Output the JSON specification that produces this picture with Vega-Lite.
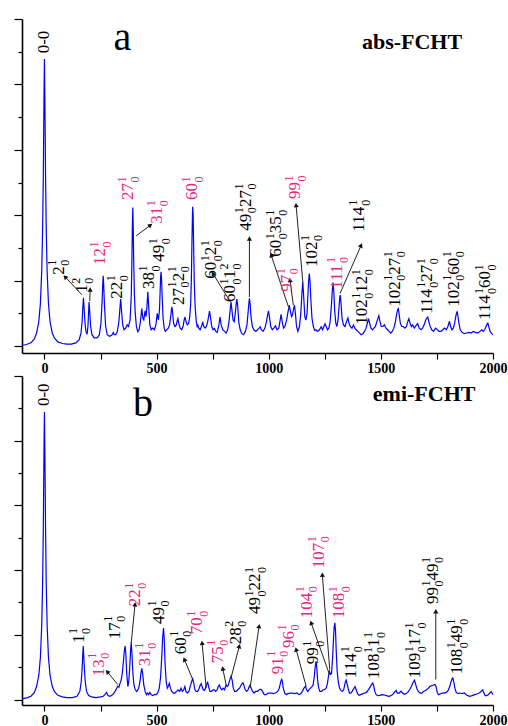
{
"$schema": "https://vega.github.io/schema/vega-lite/v6.json",
"padding": {"left": 13, "top": 17, "right": 4, "bottom": 0},
"spacing": 0,
"config": {"view": {"stroke": null}},
"datasets": {
"absSpec": [
{"x":-100,"y":0.02},{"x":-80,"y":0.05},{"x":-60,"y":0.1},{"x":-45,"y":0.22},{"x":-35,"y":0.4},{"x":-25,"y":0.75},{"x":-18,"y":1.3},{"x":-12,"y":2.3},{"x":-8,"y":3.6},{"x":-5,"y":5.2},{"x":-2,"y":7.6},{"x":0,"y":8.78},{"x":2,"y":7.6},{"x":5,"y":5.2},{"x":8,"y":3.6},{"x":12,"y":2.3},{"x":18,"y":1.3},{"x":25,"y":0.75},{"x":35,"y":0.4},{"x":45,"y":0.24},{"x":60,"y":0.13},{"x":80,"y":0.08},{"x":100,"y":0.06},{"x":120,"y":0.06},{"x":140,"y":0.1},{"x":155,"y":0.2},{"x":163,"y":0.4},{"x":168,"y":0.75},{"x":171,"y":1.15},{"x":174,"y":1.48},{"x":177,"y":1.15},{"x":181,"y":0.7},{"x":185,"y":0.45},{"x":190,"y":0.36},{"x":194,"y":0.6},{"x":197,"y":1.05},{"x":199,"y":1.35},{"x":202,"y":1.05},{"x":206,"y":0.6},{"x":212,"y":0.35},{"x":222,"y":0.25},{"x":235,"y":0.25},{"x":245,"y":0.35},{"x":252,"y":0.7},{"x":257,"y":1.35},{"x":260,"y":1.9},{"x":262,"y":2.15},{"x":264,"y":1.9},{"x":268,"y":1.2},{"x":273,"y":0.6},{"x":280,"y":0.35},{"x":290,"y":0.3},{"x":300,"y":0.33},{"x":304,"y":0.38},{"x":307,"y":0.42},{"x":311,"y":0.35},{"x":318,"y":0.35},{"x":325,"y":0.45},{"x":332,"y":0.75},{"x":336,"y":1.1},{"x":340,"y":1.44},{"x":344,"y":1.05},{"x":349,"y":0.65},{"x":355,"y":0.5},{"x":362,"y":0.55},{"x":369,"y":0.65},{"x":375,"y":0.6},{"x":382,"y":0.8},{"x":387,"y":1.5},{"x":390,"y":2.6},{"x":392,"y":3.6},{"x":394,"y":4.24},{"x":396,"y":3.6},{"x":398,"y":2.6},{"x":401,"y":1.6},{"x":405,"y":1.0},{"x":410,"y":0.6},{"x":416,"y":0.44},{"x":422,"y":0.5},{"x":428,"y":0.75},{"x":434,"y":1.15},{"x":439,"y":0.85},{"x":443,"y":0.8},{"x":446,"y":0.95},{"x":449,"y":1.08},{"x":453,"y":0.9},{"x":457,"y":1.2},{"x":461,"y":1.66},{"x":465,"y":1.2},{"x":470,"y":0.65},{"x":476,"y":0.5},{"x":483,"y":0.55},{"x":490,"y":0.5},{"x":497,"y":0.65},{"x":503,"y":1.0},{"x":508,"y":0.8},{"x":513,"y":1.1},{"x":516,"y":1.7},{"x":518,"y":2.1},{"x":520,"y":2.27},{"x":522,"y":2.1},{"x":525,"y":1.5},{"x":529,"y":0.85},{"x":534,"y":0.55},{"x":539,"y":0.45},{"x":545,"y":0.5},{"x":552,"y":0.55},{"x":558,"y":0.65},{"x":563,"y":0.9},{"x":566,"y":1.1},{"x":568,"y":1.2},{"x":571,"y":1.05},{"x":576,"y":0.7},{"x":582,"y":0.6},{"x":588,"y":0.65},{"x":592,"y":0.78},{"x":595,"y":0.84},{"x":599,"y":0.7},{"x":605,"y":0.55},{"x":612,"y":0.5},{"x":618,"y":0.6},{"x":623,"y":0.8},{"x":627,"y":0.89},{"x":631,"y":0.75},{"x":637,"y":0.65},{"x":643,"y":0.7},{"x":648,"y":0.9},{"x":652,"y":1.3},{"x":655,"y":2.0},{"x":658,"y":3.3},{"x":660,"y":4.0},{"x":661,"y":4.26},{"x":663,"y":4.0},{"x":665,"y":3.2},{"x":668,"y":2.0},{"x":672,"y":1.2},{"x":677,"y":0.75},{"x":681,"y":0.6},{"x":684,"y":0.64},{"x":688,"y":0.55},{"x":694,"y":0.5},{"x":700,"y":0.6},{"x":706,"y":0.74},{"x":710,"y":0.6},{"x":716,"y":0.55},{"x":722,"y":0.6},{"x":728,"y":0.75},{"x":733,"y":0.95},{"x":736,"y":1.07},{"x":740,"y":0.9},{"x":746,"y":0.6},{"x":752,"y":0.5},{"x":758,"y":0.54},{"x":764,"y":0.45},{"x":770,"y":0.42},{"x":777,"y":0.6},{"x":783,"y":0.89},{"x":788,"y":0.65},{"x":795,"y":0.5},{"x":803,"y":0.45},{"x":810,"y":0.4},{"x":817,"y":0.5},{"x":823,"y":0.75},{"x":828,"y":1.1},{"x":832,"y":1.35},{"x":836,"y":1.1},{"x":841,"y":0.8},{"x":846,"y":0.75},{"x":851,"y":1.0},{"x":855,"y":1.3},{"x":858,"y":1.44},{"x":862,"y":1.2},{"x":867,"y":0.7},{"x":873,"y":0.5},{"x":880,"y":0.38},{"x":888,"y":0.35},{"x":896,"y":0.45},{"x":903,"y":0.65},{"x":909,"y":1.1},{"x":912,"y":1.35},{"x":914,"y":1.46},{"x":917,"y":1.3},{"x":921,"y":0.9},{"x":927,"y":0.6},{"x":934,"y":0.5},{"x":942,"y":0.45},{"x":950,"y":0.5},{"x":957,"y":0.55},{"x":962,"y":0.59},{"x":967,"y":0.5},{"x":975,"y":0.45},{"x":983,"y":0.55},{"x":990,"y":0.75},{"x":995,"y":0.95},{"x":999,"y":1.08},{"x":1003,"y":0.9},{"x":1009,"y":0.6},{"x":1016,"y":0.5},{"x":1023,"y":0.55},{"x":1030,"y":0.62},{"x":1037,"y":0.5},{"x":1045,"y":0.55},{"x":1050,"y":0.75},{"x":1055,"y":0.97},{"x":1060,"y":0.75},{"x":1066,"y":0.55},{"x":1072,"y":0.6},{"x":1080,"y":0.8},{"x":1086,"y":1.05},{"x":1092,"y":1.25},{"x":1097,"y":1.05},{"x":1102,"y":0.9},{"x":1106,"y":0.95},{"x":1111,"y":1.15},{"x":1115,"y":1.25},{"x":1119,"y":1.0},{"x":1124,"y":0.6},{"x":1130,"y":0.45},{"x":1137,"y":0.6},{"x":1143,"y":1.0},{"x":1148,"y":1.6},{"x":1152,"y":1.97},{"x":1156,"y":1.5},{"x":1161,"y":0.9},{"x":1166,"y":0.8},{"x":1171,"y":1.0},{"x":1175,"y":1.6},{"x":1178,"y":2.0},{"x":1181,"y":2.22},{"x":1184,"y":2.0},{"x":1188,"y":1.4},{"x":1193,"y":0.85},{"x":1199,"y":0.6},{"x":1205,"y":0.48},{"x":1211,"y":0.5},{"x":1218,"y":0.45},{"x":1226,"y":0.5},{"x":1234,"y":0.59},{"x":1240,"y":0.5},{"x":1246,"y":0.6},{"x":1251,"y":0.68},{"x":1256,"y":0.6},{"x":1262,"y":0.5},{"x":1268,"y":0.55},{"x":1274,"y":0.75},{"x":1280,"y":1.3},{"x":1284,"y":1.75},{"x":1287,"y":1.94},{"x":1290,"y":1.7},{"x":1294,"y":1.1},{"x":1299,"y":0.7},{"x":1304,"y":0.6},{"x":1309,"y":0.8},{"x":1314,"y":1.25},{"x":1317,"y":1.5},{"x":1319,"y":1.56},{"x":1322,"y":1.35},{"x":1327,"y":0.85},{"x":1333,"y":0.65},{"x":1340,"y":0.6},{"x":1347,"y":0.75},{"x":1353,"y":0.86},{"x":1358,"y":0.7},{"x":1364,"y":0.6},{"x":1371,"y":0.55},{"x":1378,"y":0.65},{"x":1384,"y":0.55},{"x":1390,"y":0.5},{"x":1398,"y":0.45},{"x":1405,"y":0.4},{"x":1412,"y":0.35},{"x":1420,"y":0.38},{"x":1427,"y":0.45},{"x":1434,"y":0.55},{"x":1440,"y":0.7},{"x":1445,"y":0.84},{"x":1450,"y":0.7},{"x":1456,"y":0.55},{"x":1463,"y":0.5},{"x":1469,"y":0.55},{"x":1476,"y":0.6},{"x":1482,"y":0.75},{"x":1487,"y":0.85},{"x":1491,"y":0.93},{"x":1496,"y":0.75},{"x":1502,"y":0.6},{"x":1509,"y":0.6},{"x":1516,"y":0.65},{"x":1523,"y":0.55},{"x":1530,"y":0.5},{"x":1537,"y":0.45},{"x":1544,"y":0.4},{"x":1551,"y":0.45},{"x":1558,"y":0.55},{"x":1565,"y":0.75},{"x":1571,"y":1.0},{"x":1575,"y":1.12},{"x":1578,"y":1.15},{"x":1582,"y":0.95},{"x":1587,"y":0.7},{"x":1593,"y":0.6},{"x":1600,"y":0.6},{"x":1607,"y":0.55},{"x":1614,"y":0.6},{"x":1620,"y":0.75},{"x":1625,"y":0.84},{"x":1630,"y":0.7},{"x":1636,"y":0.6},{"x":1642,"y":0.65},{"x":1649,"y":0.55},{"x":1656,"y":0.62},{"x":1664,"y":0.69},{"x":1671,"y":0.55},{"x":1679,"y":0.5},{"x":1686,"y":0.55},{"x":1693,"y":0.65},{"x":1700,"y":0.8},{"x":1705,"y":0.86},{"x":1709,"y":0.89},{"x":1714,"y":0.75},{"x":1720,"y":0.6},{"x":1727,"y":0.5},{"x":1735,"y":0.45},{"x":1744,"y":0.55},{"x":1752,"y":0.5},{"x":1760,"y":0.45},{"x":1768,"y":0.45},{"x":1776,"y":0.5},{"x":1784,"y":0.55},{"x":1792,"y":0.5},{"x":1799,"y":0.6},{"x":1806,"y":0.76},{"x":1811,"y":0.6},{"x":1817,"y":0.5},{"x":1823,"y":0.55},{"x":1829,"y":0.7},{"x":1834,"y":0.9},{"x":1838,"y":1.03},{"x":1840,"y":1.05},{"x":1843,"y":0.95},{"x":1848,"y":0.7},{"x":1854,"y":0.5},{"x":1862,"y":0.42},{"x":1872,"y":0.38},{"x":1882,"y":0.4},{"x":1892,"y":0.42},{"x":1902,"y":0.4},{"x":1912,"y":0.45},{"x":1922,"y":0.42},{"x":1932,"y":0.4},{"x":1942,"y":0.45},{"x":1950,"y":0.5},{"x":1957,"y":0.45},{"x":1963,"y":0.5},{"x":1969,"y":0.6},{"x":1974,"y":0.68},{"x":1977,"y":0.7},{"x":1981,"y":0.6},{"x":1987,"y":0.45},{"x":1994,"y":0.38},{"x":2000,"y":0.35}
],
"emiSpec": [
{"x":-100,"y":0.02},{"x":-80,"y":0.05},{"x":-60,"y":0.1},{"x":-45,"y":0.22},{"x":-35,"y":0.4},{"x":-25,"y":0.75},{"x":-18,"y":1.3},{"x":-12,"y":2.3},{"x":-8,"y":3.6},{"x":-5,"y":5.3},{"x":-2,"y":7.7},{"x":0,"y":8.89},{"x":2,"y":7.7},{"x":5,"y":5.3},{"x":8,"y":3.6},{"x":12,"y":2.3},{"x":18,"y":1.3},{"x":25,"y":0.75},{"x":35,"y":0.4},{"x":45,"y":0.24},{"x":60,"y":0.13},{"x":80,"y":0.08},{"x":100,"y":0.06},{"x":125,"y":0.06},{"x":145,"y":0.1},{"x":158,"y":0.25},{"x":164,"y":0.55},{"x":168,"y":0.95},{"x":171,"y":1.4},{"x":173,"y":1.65},{"x":175,"y":1.4},{"x":178,"y":0.95},{"x":182,"y":0.55},{"x":188,"y":0.25},{"x":197,"y":0.12},{"x":210,"y":0.08},{"x":230,"y":0.06},{"x":250,"y":0.08},{"x":262,"y":0.1},{"x":270,"y":0.15},{"x":277,"y":0.22},{"x":283,"y":0.12},{"x":292,"y":0.1},{"x":305,"y":0.15},{"x":315,"y":0.25},{"x":322,"y":0.35},{"x":327,"y":0.41},{"x":332,"y":0.38},{"x":337,"y":0.5},{"x":342,"y":0.6},{"x":347,"y":0.8},{"x":352,"y":1.15},{"x":356,"y":1.5},{"x":360,"y":1.65},{"x":363,"y":1.4},{"x":367,"y":0.8},{"x":372,"y":0.4},{"x":376,"y":0.55},{"x":380,"y":0.95},{"x":384,"y":1.5},{"x":387,"y":1.77},{"x":390,"y":1.45},{"x":394,"y":0.85},{"x":399,"y":0.45},{"x":405,"y":0.3},{"x":412,"y":0.25},{"x":420,"y":0.35},{"x":426,"y":0.55},{"x":430,"y":0.8},{"x":434,"y":0.96},{"x":438,"y":0.8},{"x":443,"y":0.45},{"x":449,"y":0.25},{"x":455,"y":0.15},{"x":460,"y":0.2},{"x":465,"y":0.15},{"x":470,"y":0.22},{"x":476,"y":0.15},{"x":482,"y":0.12},{"x":490,"y":0.15},{"x":498,"y":0.15},{"x":505,"y":0.2},{"x":512,"y":0.35},{"x":518,"y":0.7},{"x":523,"y":1.3},{"x":527,"y":1.9},{"x":531,"y":2.21},{"x":534,"y":1.9},{"x":538,"y":1.1},{"x":543,"y":0.55},{"x":548,"y":0.35},{"x":552,"y":0.4},{"x":557,"y":0.5},{"x":562,"y":0.35},{"x":568,"y":0.25},{"x":575,"y":0.2},{"x":582,"y":0.2},{"x":590,"y":0.25},{"x":596,"y":0.3},{"x":603,"y":0.25},{"x":609,"y":0.35},{"x":615,"y":0.25},{"x":621,"y":0.3},{"x":626,"y":0.4},{"x":631,"y":0.25},{"x":637,"y":0.2},{"x":644,"y":0.25},{"x":650,"y":0.4},{"x":656,"y":0.55},{"x":661,"y":0.64},{"x":666,"y":0.5},{"x":671,"y":0.3},{"x":677,"y":0.25},{"x":683,"y":0.25},{"x":690,"y":0.35},{"x":695,"y":0.45},{"x":699,"y":0.49},{"x":703,"y":0.4},{"x":708,"y":0.3},{"x":714,"y":0.28},{"x":721,"y":0.4},{"x":725,"y":0.5},{"x":728,"y":0.53},{"x":732,"y":0.4},{"x":738,"y":0.25},{"x":745,"y":0.25},{"x":752,"y":0.3},{"x":758,"y":0.3},{"x":764,"y":0.25},{"x":770,"y":0.3},{"x":775,"y":0.4},{"x":780,"y":0.45},{"x":785,"y":0.35},{"x":791,"y":0.3},{"x":797,"y":0.35},{"x":803,"y":0.3},{"x":810,"y":0.45},{"x":815,"y":0.4},{"x":820,"y":0.45},{"x":826,"y":0.6},{"x":832,"y":0.72},{"x":837,"y":0.6},{"x":842,"y":0.35},{"x":848,"y":0.25},{"x":855,"y":0.25},{"x":862,"y":0.3},{"x":870,"y":0.35},{"x":877,"y":0.45},{"x":882,"y":0.5},{"x":885,"y":0.52},{"x":889,"y":0.45},{"x":895,"y":0.3},{"x":902,"y":0.25},{"x":908,"y":0.3},{"x":913,"y":0.4},{"x":917,"y":0.45},{"x":922,"y":0.35},{"x":928,"y":0.25},{"x":935,"y":0.2},{"x":942,"y":0.25},{"x":950,"y":0.25},{"x":957,"y":0.3},{"x":962,"y":0.31},{"x":966,"y":0.31},{"x":972,"y":0.25},{"x":980,"y":0.15},{"x":988,"y":0.15},{"x":997,"y":0.2},{"x":1005,"y":0.2},{"x":1011,"y":0.2},{"x":1020,"y":0.18},{"x":1030,"y":0.2},{"x":1040,"y":0.25},{"x":1047,"y":0.35},{"x":1052,"y":0.5},{"x":1055,"y":0.58},{"x":1058,"y":0.62},{"x":1061,"y":0.55},{"x":1065,"y":0.35},{"x":1071,"y":0.2},{"x":1078,"y":0.15},{"x":1086,"y":0.18},{"x":1095,"y":0.2},{"x":1105,"y":0.2},{"x":1115,"y":0.18},{"x":1125,"y":0.2},{"x":1135,"y":0.15},{"x":1143,"y":0.18},{"x":1150,"y":0.25},{"x":1157,"y":0.35},{"x":1164,"y":0.41},{"x":1169,"y":0.3},{"x":1174,"y":0.25},{"x":1179,"y":0.3},{"x":1186,"y":0.35},{"x":1193,"y":0.4},{"x":1198,"y":0.45},{"x":1203,"y":0.7},{"x":1207,"y":1.0},{"x":1211,"y":1.18},{"x":1214,"y":1.0},{"x":1218,"y":0.6},{"x":1223,"y":0.35},{"x":1228,"y":0.25},{"x":1236,"y":0.25},{"x":1242,"y":0.3},{"x":1249,"y":0.31},{"x":1256,"y":0.35},{"x":1262,"y":0.5},{"x":1267,"y":0.75},{"x":1271,"y":0.87},{"x":1275,"y":0.78},{"x":1280,"y":0.8},{"x":1285,"y":1.3},{"x":1289,"y":1.9},{"x":1292,"y":2.25},{"x":1295,"y":2.37},{"x":1298,"y":2.1},{"x":1301,"y":1.5},{"x":1305,"y":0.9},{"x":1310,"y":0.55},{"x":1316,"y":0.35},{"x":1322,"y":0.28},{"x":1328,"y":0.25},{"x":1334,"y":0.3},{"x":1339,"y":0.45},{"x":1342,"y":0.55},{"x":1345,"y":0.6},{"x":1349,"y":0.5},{"x":1354,"y":0.35},{"x":1360,"y":0.2},{"x":1366,"y":0.2},{"x":1372,"y":0.25},{"x":1378,"y":0.32},{"x":1385,"y":0.4},{"x":1390,"y":0.3},{"x":1396,"y":0.18},{"x":1403,"y":0.13},{"x":1410,"y":0.15},{"x":1420,"y":0.18},{"x":1428,"y":0.2},{"x":1436,"y":0.22},{"x":1444,"y":0.3},{"x":1452,"y":0.38},{"x":1459,"y":0.47},{"x":1464,"y":0.51},{"x":1468,"y":0.42},{"x":1473,"y":0.25},{"x":1479,"y":0.15},{"x":1486,"y":0.12},{"x":1495,"y":0.13},{"x":1505,"y":0.15},{"x":1516,"y":0.14},{"x":1525,"y":0.12},{"x":1535,"y":0.1},{"x":1545,"y":0.12},{"x":1552,"y":0.15},{"x":1558,"y":0.2},{"x":1564,"y":0.25},{"x":1568,"y":0.28},{"x":1573,"y":0.2},{"x":1582,"y":0.2},{"x":1590,"y":0.26},{"x":1597,"y":0.2},{"x":1605,"y":0.16},{"x":1612,"y":0.18},{"x":1620,"y":0.22},{"x":1628,"y":0.3},{"x":1636,"y":0.4},{"x":1643,"y":0.52},{"x":1648,"y":0.58},{"x":1650,"y":0.6},{"x":1654,"y":0.5},{"x":1660,"y":0.35},{"x":1667,"y":0.25},{"x":1675,"y":0.2},{"x":1683,"y":0.2},{"x":1690,"y":0.25},{"x":1697,"y":0.27},{"x":1704,"y":0.3},{"x":1712,"y":0.35},{"x":1718,"y":0.4},{"x":1725,"y":0.42},{"x":1733,"y":0.44},{"x":1738,"y":0.46},{"x":1742,"y":0.46},{"x":1746,"y":0.4},{"x":1752,"y":0.2},{"x":1758,"y":0.15},{"x":1766,"y":0.18},{"x":1774,"y":0.2},{"x":1783,"y":0.2},{"x":1792,"y":0.22},{"x":1800,"y":0.28},{"x":1807,"y":0.4},{"x":1813,"y":0.55},{"x":1818,"y":0.65},{"x":1821,"y":0.67},{"x":1825,"y":0.55},{"x":1830,"y":0.35},{"x":1836,"y":0.22},{"x":1843,"y":0.18},{"x":1852,"y":0.2},{"x":1862,"y":0.18},{"x":1872,"y":0.2},{"x":1882,"y":0.14},{"x":1895,"y":0.1},{"x":1907,"y":0.12},{"x":1918,"y":0.15},{"x":1928,"y":0.17},{"x":1938,"y":0.2},{"x":1946,"y":0.24},{"x":1951,"y":0.28},{"x":1954,"y":0.3},{"x":1958,"y":0.22},{"x":1965,"y":0.12},{"x":1972,"y":0.12},{"x":1980,"y":0.15},{"x":1986,"y":0.2},{"x":1992,"y":0.24},{"x":1996,"y":0.2},{"x":2000,"y":0.15}
],
"absLab": [
{"x":0,"y":8.95,"m":"0-0","sp":"","sb":"","kind":"plain"},
{"x":63,"y":2.18,"m":"2","sp":"1","sb":"0","kind":"plain"},
{"x":168,"y":1.63,"m":"1","sp":"2","sb":"0","kind":"plain"},
{"x":248,"y":2.48,"m":"12","sp":"1","sb":"0","kind":"highlight"},
{"x":324,"y":1.45,"m":"22","sp":"1","sb":"0","kind":"plain"},
{"x":373,"y":4.47,"m":"27","sp":"1","sb":"0","kind":"highlight"},
{"x":502,"y":3.74,"m":"31","sp":"1","sb":"0","kind":"highlight"},
{"x":467,"y":1.75,"m":"38","sp":"1","sb":"0","kind":"plain"},
{"x":511,"y":2.58,"m":"49","sp":"1","sb":"0","kind":"plain"},
{"x":598,"y":1.26,"m":"27","sp":"1","sb":"0","kind":"plain"},
{"x":598,"y":1.98,"m":"2","sp":"1","sb":"0","kind":"plain"},
{"x":658,"y":4.47,"m":"60","sp":"1","sb":"0","kind":"highlight"},
{"x":743,"y":2.06,"m":"60","sp":"1","sb":"0","kind":"plain"},
{"x":743,"y":2.78,"m":"2","sp":"1","sb":"0","kind":"plain"},
{"x":828,"y":1.35,"m":"60","sp":"1","sb":"0","kind":"plain"},
{"x":828,"y":2.07,"m":"1","sp":"2","sb":"0","kind":"plain"},
{"x":898,"y":3.53,"m":"49","sp":"1","sb":"0","kind":"plain"},
{"x":898,"y":4.25,"m":"27","sp":"1","sb":"0","kind":"plain"},
{"x":1033,"y":2.73,"m":"60","sp":"1","sb":"0","kind":"plain"},
{"x":1033,"y":3.45,"m":"35","sp":"1","sb":"0","kind":"plain"},
{"x":1082,"y":1.66,"m":"97","sp":"1","sb":"0","kind":"highlight"},
{"x":1118,"y":4.5,"m":"99","sp":"1","sb":"0","kind":"highlight"},
{"x":1192,"y":2.42,"m":"102","sp":"1","sb":"0","kind":"plain"},
{"x":1305,"y":1.75,"m":"111","sp":"1","sb":"0","kind":"highlight"},
{"x":1403,"y":3.5,"m":"114","sp":"1","sb":"0","kind":"plain"},
{"x":1417,"y":0.65,"m":"102","sp":"1","sb":"0","kind":"plain"},
{"x":1417,"y":1.63,"m":"12","sp":"1","sb":"0","kind":"plain"},
{"x":1563,"y":1.2,"m":"102","sp":"1","sb":"0","kind":"plain"},
{"x":1563,"y":2.18,"m":"27","sp":"1","sb":"0","kind":"plain"},
{"x":1706,"y":0.99,"m":"114","sp":"1","sb":"0","kind":"plain"},
{"x":1706,"y":1.97,"m":"27","sp":"1","sb":"0","kind":"plain"},
{"x":1824,"y":1.2,"m":"102","sp":"1","sb":"0","kind":"plain"},
{"x":1824,"y":2.18,"m":"60","sp":"1","sb":"0","kind":"plain"},
{"x":1965,"y":0.8,"m":"114","sp":"1","sb":"0","kind":"plain"},
{"x":1965,"y":1.78,"m":"60","sp":"1","sb":"0","kind":"plain"}
],
"emiLab": [
{"x":0,"y":9.07,"m":"0-0","sp":"","sb":"","kind":"plain"},
{"x":156,"y":1.75,"m":"1","sp":"1","sb":"0","kind":"plain"},
{"x":242,"y":0.72,"m":"13","sp":"1","sb":"0","kind":"highlight"},
{"x":313,"y":1.86,"m":"17","sp":"1","sb":"0","kind":"plain"},
{"x":404,"y":2.88,"m":"22","sp":"1","sb":"0","kind":"highlight"},
{"x":449,"y":1.03,"m":"31","sp":"1","sb":"0","kind":"highlight"},
{"x":509,"y":2.33,"m":"49","sp":"1","sb":"0","kind":"plain"},
{"x":607,"y":1.4,"m":"60","sp":"1","sb":"0","kind":"plain"},
{"x":681,"y":2.02,"m":"70","sp":"1","sb":"0","kind":"highlight"},
{"x":772,"y":1.12,"m":"75","sp":"1","sb":"0","kind":"highlight"},
{"x":852,"y":1.71,"m":"28","sp":"2","sb":"0","kind":"plain"},
{"x":939,"y":2.64,"m":"49","sp":"1","sb":"0","kind":"plain"},
{"x":939,"y":3.37,"m":"22","sp":"1","sb":"0","kind":"plain"},
{"x":1040,"y":0.78,"m":"91","sp":"1","sb":"0","kind":"highlight"},
{"x":1089,"y":1.59,"m":"96","sp":"1","sb":"0","kind":"highlight"},
{"x":1198,"y":1.09,"m":"99","sp":"1","sb":"0","kind":"plain"},
{"x":1169,"y":2.51,"m":"104","sp":"1","sb":"0","kind":"highlight"},
{"x":1222,"y":4.06,"m":"107","sp":"1","sb":"0","kind":"highlight"},
{"x":1314,"y":2.51,"m":"108","sp":"1","sb":"0","kind":"highlight"},
{"x":1367,"y":0.66,"m":"114","sp":"1","sb":"0","kind":"plain"},
{"x":1470,"y":0.63,"m":"108","sp":"1","sb":"0","kind":"plain"},
{"x":1470,"y":1.62,"m":"1","sp":"1","sb":"0","kind":"plain"},
{"x":1653,"y":0.66,"m":"109","sp":"1","sb":"0","kind":"plain"},
{"x":1653,"y":1.65,"m":"17","sp":"1","sb":"0","kind":"plain"},
{"x":1731,"y":2.95,"m":"99","sp":"1","sb":"0","kind":"plain"},
{"x":1731,"y":3.68,"m":"49","sp":"1","sb":"0","kind":"plain"},
{"x":1840,"y":0.78,"m":"108","sp":"1","sb":"0","kind":"plain"},
{"x":1840,"y":1.77,"m":"49","sp":"1","sb":"0","kind":"plain"}
],
"absArr": [
{"x":167,"y":1.57,"x2":92,"y2":2.12},
{"x":202,"y":1.38,"x2":204,"y2":1.73},
{"x":409,"y":3.37,"x2":473,"y2":3.7},
{"x":829,"y":1.35,"x2":751,"y2":2.22},
{"x":914,"y":1.5,"x2":914,"y2":3.29},
{"x":1088,"y":1.2,"x2":1011,"y2":2.78},
{"x":1110,"y":1.25,"x2":1095,"y2":2.02},
{"x":1152,"y":1.96,"x2":1122,"y2":4.31},
{"x":1318,"y":1.61,"x2":1412,"y2":3.08}
],
"emiArr": [
{"x":327,"y":0.46,"x2":280,"y2":0.86},
{"x":387,"y":1.75,"x2":404,"y2":2.94},
{"x":661,"y":0.62,"x2":624,"y2":1.24},
{"x":721,"y":0.36,"x2":703,"y2":1.75},
{"x":810,"y":0.46,"x2":795,"y2":0.96},
{"x":832,"y":0.67,"x2":869,"y2":1.65},
{"x":917,"y":0.36,"x2":957,"y2":2.27},
{"x":1167,"y":0.41,"x2":1122,"y2":1.55},
{"x":1271,"y":0.77,"x2":1189,"y2":2.37},
{"x":1272,"y":0.93,"x2":1239,"y2":3.86},
{"x":1745,"y":0.62,"x2":1745,"y2":2.73}
],
"absTitle": [{"x":347,"y":9.06,"t":"a"}],
"absName": [{"x":1639,"y":9.09,"t":"abs-FCHT"}],
"emiTitle": [{"x":440,"y":8.76,"t":"b"}],
"emiName": [{"x":1693,"y":9.22,"t":"emi-FCHT"}]
},
"vconcat": [
{
"width": 471, "height": 334,
"encoding": {
 "x": {"field": "x", "type": "quantitative", "title": null, "scale": {"domain": [-100, 2000], "nice": false, "zero": false},
  "axis": {"values": [0,250,500,750,1000,1250,1500,1750,2000], "format": "d", "labelExpr": "datum.value % 500 === 0 ? datum.label : ''", "grid": false, "tickSize": 6, "tickWidth": 1.2, "tickColor": "#000", "domainColor": "#000", "domainWidth": 1.6, "labelFont": "Liberation Serif", "labelFontWeight": "bold", "labelFontSize": 14, "labelColor": "#000", "labelPadding": 2, "labelFlush": false, "labelOverlap": false}},
 "y": {"field": "y", "type": "quantitative", "title": null, "scale": {"domain": [-0.21, 10], "nice": false, "zero": false},
  "axis": {"values": [0,1,2,3,4,5,6,7,8,9,10], "labels": false, "grid": false, "tickSize": {"condition": {"test": "datum.value % 2 === 0", "value": 8}, "value": 4}, "tickWidth": 1.2, "tickColor": "#000", "domainColor": "#000", "domainWidth": 1.6}}
},
"layer": [
{"data": {"name": "absSpec"}, "mark": {"type": "line", "color": "#0000ff", "strokeWidth": 1.2}},
{"data": {"name": "absArr"}, "mark": {"type": "rule", "color": "#222", "strokeWidth": 1},
 "encoding": {"x2": {"field": "x2"}, "y2": {"field": "y2"}}},
{"data": {"name": "absArr"}, "transform": [{"calculate": "atan2((datum.x2-datum.x)*0.2243, (datum.y2-datum.y)*32.7)*180/PI", "as": "ang"}],
 "mark": {"type": "point", "shape": "triangle-up", "filled": true, "color": "#111", "opacity": 1, "size": 26},
 "encoding": {
  "x": {"field": "x2", "type": "quantitative", "title": null, "scale": {"domain": [-100, 2000], "nice": false, "zero": false}},
  "y": {"field": "y2", "type": "quantitative", "title": null, "scale": {"domain": [-0.21, 10], "nice": false, "zero": false}},
  "angle": {"field": "ang", "type": "quantitative", "scale": null}
 }},
{"data": {"name": "absLab"}, "mark": {"type": "text", "angle": 270, "align": "left", "baseline": "middle", "font": "Liberation Serif", "fontSize": 17},
 "encoding": {"text": {"field": "m"}, "color": {"field": "kind", "type": "nominal", "scale": {"domain": ["plain", "highlight"], "range": ["#000000", "#e6267f"]}, "legend": null}}},
{"data": {"name": "absLab"}, "transform": [{"filter": "length(datum.m) === 1 && datum.sp !== ''"}], "mark": {"type": "text", "angle": 270, "align": "left", "baseline": "middle", "font": "Liberation Serif", "fontSize": 12, "dx": 9, "dy": -6.5},
 "encoding": {"text": {"field": "sp"}, "color": {"field": "kind", "type": "nominal", "legend": null}}},
{"data": {"name": "absLab"}, "transform": [{"filter": "length(datum.m) === 2 && datum.sp !== ''"}], "mark": {"type": "text", "angle": 270, "align": "left", "baseline": "middle", "font": "Liberation Serif", "fontSize": 12, "dx": 17.5, "dy": -6.5},
 "encoding": {"text": {"field": "sp"}, "color": {"field": "kind", "type": "nominal", "legend": null}}},
{"data": {"name": "absLab"}, "transform": [{"filter": "length(datum.m) === 3 && datum.sp !== ''"}], "mark": {"type": "text", "angle": 270, "align": "left", "baseline": "middle", "font": "Liberation Serif", "fontSize": 12, "dx": 26, "dy": -6.5},
 "encoding": {"text": {"field": "sp"}, "color": {"field": "kind", "type": "nominal", "legend": null}}},
{"data": {"name": "absLab"}, "transform": [{"filter": "length(datum.m) === 1 && datum.sb !== ''"}], "mark": {"type": "text", "angle": 270, "align": "left", "baseline": "middle", "font": "Liberation Serif", "fontSize": 12, "dx": 9, "dy": 6.5},
 "encoding": {"text": {"field": "sb"}, "color": {"field": "kind", "type": "nominal", "legend": null}}},
{"data": {"name": "absLab"}, "transform": [{"filter": "length(datum.m) === 2 && datum.sb !== ''"}], "mark": {"type": "text", "angle": 270, "align": "left", "baseline": "middle", "font": "Liberation Serif", "fontSize": 12, "dx": 17.5, "dy": 6.5},
 "encoding": {"text": {"field": "sb"}, "color": {"field": "kind", "type": "nominal", "legend": null}}},
{"data": {"name": "absLab"}, "transform": [{"filter": "length(datum.m) === 3 && datum.sb !== ''"}], "mark": {"type": "text", "angle": 270, "align": "left", "baseline": "middle", "font": "Liberation Serif", "fontSize": 12, "dx": 26, "dy": 6.5},
 "encoding": {"text": {"field": "sb"}, "color": {"field": "kind", "type": "nominal", "legend": null}}},
{"data": {"name": "absTitle"}, "mark": {"type": "text", "align": "center", "baseline": "alphabetic", "font": "Liberation Serif", "fontSize": 40, "color": "#000"},
 "encoding": {"text": {"field": "t"}}},
{"data": {"name": "absName"}, "mark": {"type": "text", "align": "center", "baseline": "alphabetic", "font": "Liberation Serif", "fontWeight": "bold", "fontSize": 22, "color": "#000"},
 "encoding": {"text": {"field": "t"}}}
]
},
{
"width": 471, "height": 329,
"encoding": {
 "x": {"field": "x", "type": "quantitative", "title": null, "scale": {"domain": [-100, 2000], "nice": false, "zero": false},
  "axis": {"values": [0,250,500,750,1000,1250,1500,1750,2000], "format": "d", "labelExpr": "datum.value % 500 === 0 ? datum.label : ''", "grid": false, "tickSize": 6, "tickWidth": 1.2, "tickColor": "#000", "domainColor": "#000", "domainWidth": 1.6, "labelFont": "Liberation Serif", "labelFontWeight": "bold", "labelFontSize": 14, "labelColor": "#000", "labelPadding": 2, "labelFlush": false, "labelOverlap": false}},
 "y": {"field": "y", "type": "quantitative", "title": null, "scale": {"domain": [-0.17, 10], "nice": false, "zero": false},
  "axis": {"values": [0,1,2,3,4,5,6,7,8,9,10], "labels": false, "grid": false, "tickSize": {"condition": {"test": "datum.value % 2 === 0", "value": 8}, "value": 4}, "tickWidth": 1.2, "tickColor": "#000", "domainColor": "#000", "domainWidth": 1.6}}
},
"layer": [
{"data": {"name": "emiSpec"}, "mark": {"type": "line", "color": "#0000ff", "strokeWidth": 1.2}},
{"data": {"name": "emiArr"}, "mark": {"type": "rule", "color": "#222", "strokeWidth": 1},
 "encoding": {"x2": {"field": "x2"}, "y2": {"field": "y2"}}},
{"data": {"name": "emiArr"}, "transform": [{"calculate": "atan2((datum.x2-datum.x)*0.2243, (datum.y2-datum.y)*32.35)*180/PI", "as": "ang"}],
 "mark": {"type": "point", "shape": "triangle-up", "filled": true, "color": "#111", "opacity": 1, "size": 26},
 "encoding": {
  "x": {"field": "x2", "type": "quantitative", "title": null, "scale": {"domain": [-100, 2000], "nice": false, "zero": false}},
  "y": {"field": "y2", "type": "quantitative", "title": null, "scale": {"domain": [-0.17, 10], "nice": false, "zero": false}},
  "angle": {"field": "ang", "type": "quantitative", "scale": null}
 }},
{"data": {"name": "emiLab"}, "mark": {"type": "text", "angle": 270, "align": "left", "baseline": "middle", "font": "Liberation Serif", "fontSize": 17},
 "encoding": {"text": {"field": "m"}, "color": {"field": "kind", "type": "nominal", "scale": {"domain": ["plain", "highlight"], "range": ["#000000", "#e6267f"]}, "legend": null}}},
{"data": {"name": "emiLab"}, "transform": [{"filter": "length(datum.m) === 1 && datum.sp !== ''"}], "mark": {"type": "text", "angle": 270, "align": "left", "baseline": "middle", "font": "Liberation Serif", "fontSize": 12, "dx": 9, "dy": -6.5},
 "encoding": {"text": {"field": "sp"}, "color": {"field": "kind", "type": "nominal", "legend": null}}},
{"data": {"name": "emiLab"}, "transform": [{"filter": "length(datum.m) === 2 && datum.sp !== ''"}], "mark": {"type": "text", "angle": 270, "align": "left", "baseline": "middle", "font": "Liberation Serif", "fontSize": 12, "dx": 17.5, "dy": -6.5},
 "encoding": {"text": {"field": "sp"}, "color": {"field": "kind", "type": "nominal", "legend": null}}},
{"data": {"name": "emiLab"}, "transform": [{"filter": "length(datum.m) === 3 && datum.sp !== ''"}], "mark": {"type": "text", "angle": 270, "align": "left", "baseline": "middle", "font": "Liberation Serif", "fontSize": 12, "dx": 26, "dy": -6.5},
 "encoding": {"text": {"field": "sp"}, "color": {"field": "kind", "type": "nominal", "legend": null}}},
{"data": {"name": "emiLab"}, "transform": [{"filter": "length(datum.m) === 1 && datum.sb !== ''"}], "mark": {"type": "text", "angle": 270, "align": "left", "baseline": "middle", "font": "Liberation Serif", "fontSize": 12, "dx": 9, "dy": 6.5},
 "encoding": {"text": {"field": "sb"}, "color": {"field": "kind", "type": "nominal", "legend": null}}},
{"data": {"name": "emiLab"}, "transform": [{"filter": "length(datum.m) === 2 && datum.sb !== ''"}], "mark": {"type": "text", "angle": 270, "align": "left", "baseline": "middle", "font": "Liberation Serif", "fontSize": 12, "dx": 17.5, "dy": 6.5},
 "encoding": {"text": {"field": "sb"}, "color": {"field": "kind", "type": "nominal", "legend": null}}},
{"data": {"name": "emiLab"}, "transform": [{"filter": "length(datum.m) === 3 && datum.sb !== ''"}], "mark": {"type": "text", "angle": 270, "align": "left", "baseline": "middle", "font": "Liberation Serif", "fontSize": 12, "dx": 26, "dy": 6.5},
 "encoding": {"text": {"field": "sb"}, "color": {"field": "kind", "type": "nominal", "legend": null}}},
{"data": {"name": "emiTitle"}, "mark": {"type": "text", "align": "center", "baseline": "alphabetic", "font": "Liberation Serif", "fontSize": 40, "color": "#000"},
 "encoding": {"text": {"field": "t"}}},
{"data": {"name": "emiName"}, "mark": {"type": "text", "align": "center", "baseline": "alphabetic", "font": "Liberation Serif", "fontWeight": "bold", "fontSize": 22, "color": "#000"},
 "encoding": {"text": {"field": "t"}}}
]
}
]
}
